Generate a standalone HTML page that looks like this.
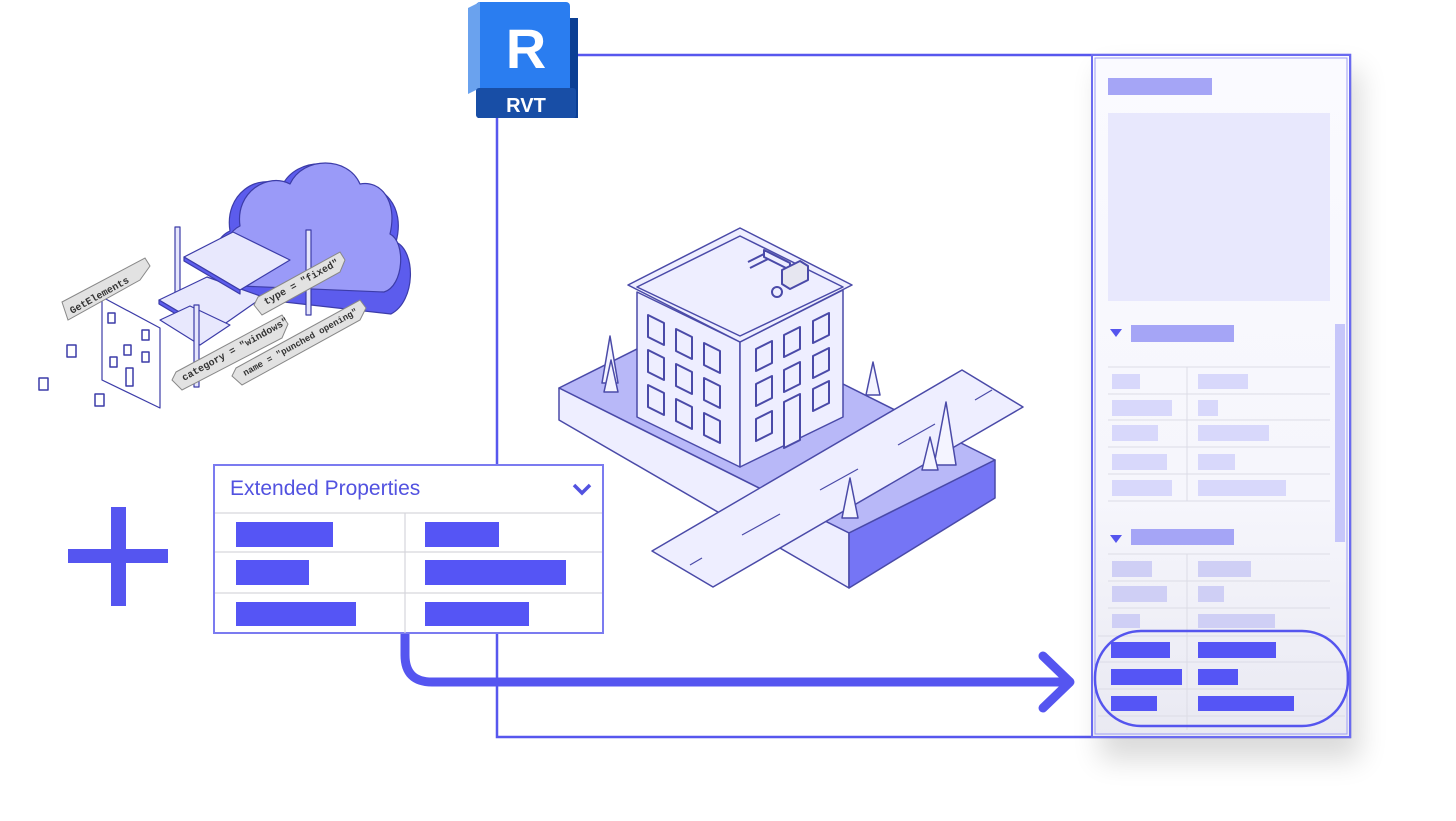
<!DOCTYPE html>
<html><head><meta charset="utf-8"><style>
html,body{margin:0;padding:0;background:#fff;}
svg{display:block;}
text{font-family:"Liberation Sans",sans-serif;}
text.mono{font-family:"Liberation Mono",monospace;font-weight:bold;font-size:10px;fill:#333;}
</style></head><body>
<svg width="1456" height="821" viewBox="0 0 1456 821" xmlns="http://www.w3.org/2000/svg">
<defs>
<filter id="sh" x="-30%" y="-10%" width="160%" height="130%"><feGaussianBlur stdDeviation="14"/></filter>
<linearGradient id="pg" x1="0" y1="0" x2="0" y2="1">
<stop offset="0" stop-color="#fafaff"/><stop offset="0.65" stop-color="#f6f6fc"/><stop offset="1" stop-color="#e9e9f2"/></linearGradient>
</defs>

<rect x="497" y="55" width="853" height="682" fill="#fff" stroke="#5757ee" stroke-width="2.5"/>

<rect x="1100" y="70" width="260" height="690" fill="#000" opacity="0.14" filter="url(#sh)"/>
<rect x="1092" y="55" width="258" height="682" fill="url(#pg)" stroke="#6a6af0" stroke-width="2"/>
<rect x="1095" y="58" width="252" height="676" fill="none" stroke="#9d9df5" stroke-width="1"/>
<rect x="1108" y="78" width="104" height="17" fill="#a5a5f6"/>
<rect x="1108" y="113" width="222" height="188" fill="#e8e8fd"/>
<polygon points="1110,329 1122,329 1116,337" fill="#5555ee"/>
<rect x="1131" y="325" width="103" height="17" fill="#a5a5f6"/>
<rect x="1335" y="324" width="10" height="218" fill="#c6c6fa"/>
<g stroke="#dcdce6" stroke-width="1">
<line x1="1108" y1="367" x2="1330" y2="367"/><line x1="1108" y1="394" x2="1330" y2="394"/>
<line x1="1108" y1="420" x2="1330" y2="420"/><line x1="1108" y1="447" x2="1330" y2="447"/>
<line x1="1108" y1="474" x2="1330" y2="474"/><line x1="1108" y1="501" x2="1330" y2="501"/>
<line x1="1187" y1="367" x2="1187" y2="501"/>
<line x1="1108" y1="554" x2="1330" y2="554"/><line x1="1108" y1="581" x2="1330" y2="581"/>
<line x1="1108" y1="608" x2="1330" y2="608"/><line x1="1098" y1="636" x2="1345" y2="636"/>
<line x1="1098" y1="662" x2="1345" y2="662"/><line x1="1098" y1="689" x2="1345" y2="689"/>
<line x1="1098" y1="716" x2="1345" y2="716"/><line x1="1187" y1="554" x2="1187" y2="730"/>
</g>
<g fill="#d8d8fb">
<rect x="1112" y="374" width="28" height="15"/><rect x="1198" y="374" width="50" height="15"/>
<rect x="1112" y="400" width="60" height="16"/><rect x="1198" y="400" width="20" height="16"/>
<rect x="1112" y="425" width="46" height="16"/><rect x="1198" y="425" width="71" height="16"/>
<rect x="1112" y="454" width="55" height="16"/><rect x="1198" y="454" width="37" height="16"/>
<rect x="1112" y="480" width="60" height="16"/><rect x="1198" y="480" width="88" height="16"/>
</g>
<polygon points="1110,535 1122,535 1116,543" fill="#5555ee"/>
<rect x="1131" y="529" width="103" height="16" fill="#a5a5f6"/>
<g fill="#cfcff5">
<rect x="1112" y="561" width="40" height="16"/><rect x="1198" y="561" width="53" height="16"/>
<rect x="1112" y="586" width="55" height="16"/><rect x="1198" y="586" width="26" height="16"/>
<rect x="1112" y="614" width="28" height="14"/><rect x="1198" y="614" width="77" height="14"/>
</g>
<g fill="#5555f5">
<rect x="1111" y="642" width="59" height="16"/><rect x="1198" y="642" width="78" height="16"/>
<rect x="1111" y="669" width="71" height="16"/><rect x="1198" y="669" width="40" height="16"/>
<rect x="1111" y="696" width="46" height="15"/><rect x="1198" y="696" width="96" height="15"/>
</g>
<rect x="1095" y="631" width="253" height="95" rx="46" fill="none" stroke="#5555ee" stroke-width="2.5"/>

<!-- RVT logo -->
<rect x="478" y="18" width="100" height="100" fill="#0b3f94"/>
<rect x="476" y="2" width="94" height="93" rx="4" fill="#2a7df0"/>
<polygon points="468,8 480,2 480,88 468,94" fill="#6aa2ee"/>
<rect x="476" y="88" width="100" height="30" rx="3" fill="#184ea6"/>
<text x="526" y="68" font-size="56" font-weight="bold" fill="#fff" text-anchor="middle">R</text>
<text x="526" y="112" font-size="20" font-weight="bold" fill="#fff" text-anchor="middle">RVT</text>

<!-- building scene -->
<g stroke="#4a4aa8" stroke-width="1.5" stroke-linejoin="round">
<polygon points="559,388 705,315 995,460 849,533" fill="#b8b8f8"/>
<polygon points="559,388 849,533 849,588 559,420" fill="#eeeeff"/>
<polygon points="849,533 995,460 995,498 849,588" fill="#7575f5"/>
<polygon points="652,551 962,370 1023,407 713,587" fill="#eeeeff"/>
<g stroke-width="1.2">
<line x1="690" y1="565" x2="702" y2="558"/><line x1="742" y1="535" x2="780" y2="514"/>
<line x1="820" y1="490" x2="858" y2="469"/><line x1="898" y1="445" x2="935" y2="424"/>
<line x1="975" y1="400" x2="992" y2="390"/>
</g>
<polygon points="637,292 740,342 740,467 637,417" fill="#eeeeff"/>
<polygon points="740,342 843,290 843,417 740,467" fill="#eeeeff"/>
<polygon points="628,285 740,228 852,285 740,342" fill="#eeeeff"/>
<polygon points="637,287 740,236 843,287 740,336" fill="#eeeeff"/>
<g fill="#eeeeff" stroke-width="2">
<polyline points="748,262 768,252 788,262" fill="none"/><polyline points="750,268 770,258 790,268" fill="none"/>
<polygon points="764,250 790,263 790,270 764,257" /><polygon points="782,270 800,261 808,266 808,280 790,289 782,284" fill="#e6e6f0"/>
<circle cx="777" cy="292" r="5"/>
</g>
<g fill="#eeeeff" stroke-width="2">
<polygon points="648,315 664,323 664,345 648,337"/><polygon points="676,329 692,337 692,359 676,351"/><polygon points="704,343 720,351 720,373 704,365"/>
<polygon points="648,350 664,358 664,380 648,372"/><polygon points="676,364 692,372 692,394 676,386"/><polygon points="704,378 720,386 720,408 704,400"/>
<polygon points="648,385 664,393 664,415 648,407"/><polygon points="676,399 692,407 692,429 676,421"/><polygon points="704,413 720,421 720,443 704,435"/>
<polygon points="756,349 772,341 772,363 756,371"/><polygon points="784,335 800,327 800,349 784,357"/><polygon points="813,321 829,313 829,335 813,343"/>
<polygon points="756,384 772,376 772,398 756,406"/><polygon points="784,370 800,362 800,384 784,392"/><polygon points="813,356 829,348 829,370 813,378"/>
<polygon points="756,419 772,411 772,433 756,441"/><polygon points="784,402 800,394 800,440 784,448"/><polygon points="813,389 829,381 829,403 813,411"/>
</g>
<g fill="#f4f4ff">
<polygon points="610,336 602,383 618,383"/><polygon points="611,360 604,392 618,392"/>
<polygon points="873,362 866,395 880,395"/>
<polygon points="946,402 934,465 956,465"/><polygon points="930,437 922,470 938,470"/>
<polygon points="850,478 842,518 858,518"/>
</g>
</g>

<!-- Extended Properties -->
<rect x="214" y="465" width="389" height="168" fill="#fff" stroke="#7b7bf0" stroke-width="2"/>
<g stroke="#d6d6dc" stroke-width="1.2">
<line x1="215" y1="513" x2="602" y2="513"/><line x1="215" y1="552" x2="602" y2="552"/><line x1="215" y1="593" x2="602" y2="593"/>
<line x1="405" y1="513" x2="405" y2="633"/>
</g>
<text x="230" y="495" font-size="21" fill="#5252e0">Extended Properties</text>
<polyline points="574,485 582,493 590,485" fill="none" stroke="#5252e0" stroke-width="3.5"/>
<g fill="#5555f5">
<rect x="236" y="522" width="97" height="25"/><rect x="425" y="522" width="74" height="25"/>
<rect x="236" y="560" width="73" height="25"/><rect x="425" y="560" width="141" height="25"/>
<rect x="236" y="602" width="120" height="24"/><rect x="425" y="602" width="104" height="24"/>
</g>

<path d="M405,634 V655 Q405,682 432,682 H1070" fill="none" stroke="#5555f0" stroke-width="9"/>
<polyline points="1043,656 1070,682 1043,708" fill="none" stroke="#5555f0" stroke-width="9" stroke-linecap="round" stroke-linejoin="round"/>

<rect x="68" y="549" width="100" height="14" fill="#5555f0"/>
<rect x="111" y="507" width="15" height="99" fill="#5555f0"/>

<!-- left cloud illustration -->
<g stroke="#3c3ca8" stroke-width="1.2" stroke-linejoin="round">
<g transform="translate(-14,-4)">
<circle cx="392" cy="288" r="26" fill="#5c5ced"/>
<path d="M245,300 C222,295 220,245 244,235 C238,198 272,176 296,190 C310,160 360,160 372,192 C396,186 420,210 410,246 C430,255 430,305 405,318 Z" fill="#5c5ced"/>
<path d="M255,290 C234,285 232,240 254,230 C249,196 282,176 304,188 C317,160 362,160 374,188 C394,184 412,204 404,238 C420,246 418,290 398,296 Z" fill="#9a9af8"/>
</g>
<rect x="175" y="227" width="5" height="80" fill="#e6e6fb"/>
<rect x="306" y="230" width="5" height="85" fill="#e6e6fb"/>
<polygon points="159,300 207,277 263,297 213,332" fill="#e8e8fd"/>
<polygon points="159,300 213,332 213,336 159,304" fill="#5c5ced"/>
<polygon points="184,257 233,232 290,260 240,290" fill="#e8e8fd"/>
<polygon points="184,257 240,290 240,294 184,261" fill="#5c5ced"/>
<polygon points="160,320 190,306 230,325 200,345" fill="#e8e8fd"/>
<polygon points="102,297 160,328 160,408 102,380" fill="#fff"/>
<g fill="#fff" stroke-width="1.5">
<rect x="108" y="313" width="7" height="10"/><rect x="142" y="330" width="7" height="10"/>
<rect x="124" y="345" width="7" height="10"/><rect x="142" y="352" width="7" height="10"/>
<rect x="110" y="357" width="7" height="10"/><rect x="126" y="368" width="7" height="18"/>
<rect x="67" y="345" width="9" height="12"/><rect x="39" y="378" width="9" height="12"/><rect x="95" y="394" width="9" height="12"/>
</g>
<rect x="194" y="305" width="5" height="82" fill="#e6e6fb"/>
</g>
<g fill="#e2e2e2" stroke="#888" stroke-width="1">
<polygon points="62,302 145,258 150,266 140,280 68,320"/>
<polygon points="258,297 340,252 345,260 340,272 262,315 254,305"/>
<polygon points="176,372 282,315 288,324 282,338 182,390 172,380"/>
<polygon points="236,368 360,300 366,308 360,320 242,385 232,376"/>
</g>
<text class="mono" transform="translate(72,314) rotate(-29)">GetElements</text>
<text class="mono" transform="translate(266,305) rotate(-29)">type = "fixed"</text>
<text class="mono" transform="translate(184,381) rotate(-29)">category = "windows"</text>
<text class="mono" transform="translate(245,376) rotate(-29)" style="font-size:9px">name = "punched opening"</text>
</svg>
</body></html>
